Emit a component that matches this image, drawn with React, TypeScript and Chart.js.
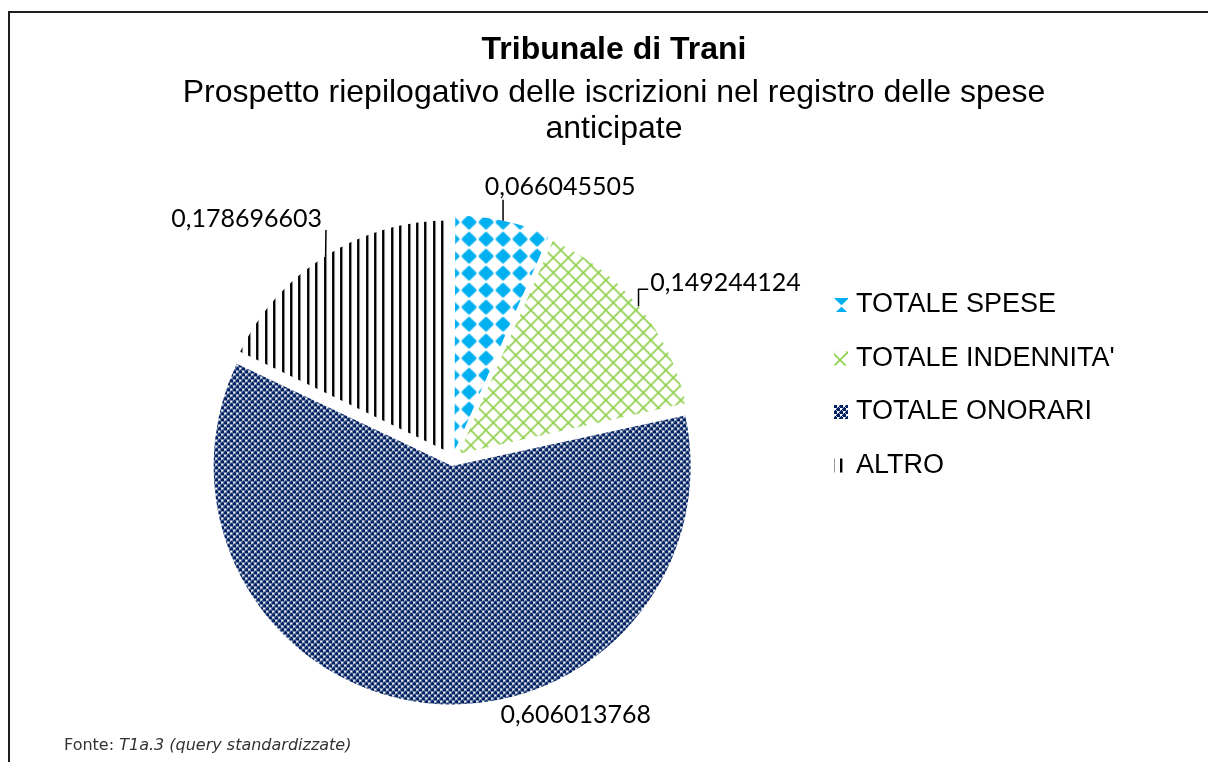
import React, { useEffect, useRef } from "react";
import { Chart, registerables } from "chart.js";

Chart.register(...registerables);

// ---------- data ----------
const TITLE = "Tribunale di Trani";
const SUBTITLE_LINES = [
  "Prospetto riepilogativo delle iscrizioni nel registro delle spese",
  "anticipate",
];
const CATEGORIES = ["TOTALE SPESE", "TOTALE INDENNITA'", "TOTALE ONORARI", "ALTRO"];
const VALUES = [0.066045505, 0.149244124, 0.606013768, 0.178696603];
const SOURCE_PREFIX = "Fonte:";
const SOURCE_NAME = "T1a.3 (query standardizzate)";

// ---------- layout / style ----------
const W = 1228;
const H = 762;
const SANS = '"Liberation Sans", Arial, Helvetica, sans-serif';
const LABEL_FONT = '25px Lato, "Open Sans", sans-serif';
const LEGEND_FONT = `27px ${SANS}`;
const LEGEND_X = 834;
const LEGEND_TOP = 305;
const LEGEND_STEP = 53.5;
// label position relative to the slice's outer mid point (style only)
const LABEL_NUDGE: [number, number][] = [
  [57, -34],
  [87, -23],
  [151, 12],
  [-79, -37],
];
const LABEL_LEADER = [true, true, false, true];

function makePattern(w: number, h: number, draw: (g: CanvasRenderingContext2D) => void) {
  const c = document.createElement("canvas");
  c.width = w;
  c.height = h;
  const g = c.getContext("2d")!;
  draw(g);
  return g.createPattern(c, "repeat")!;
}

function buildPatterns() {
  const spese = makePattern(17, 17, (g) => {
    g.fillStyle = "#ffffff";
    g.fillRect(0, 0, 17, 17);
    g.fillStyle = "#00B0F0";
    g.strokeStyle = "#00B0F0";
    g.lineJoin = "round";
    g.lineWidth = 2.5;
    g.beginPath();
    g.moveTo(8.5, 2.3);
    g.lineTo(14.7, 8.5);
    g.lineTo(8.5, 14.7);
    g.lineTo(2.3, 8.5);
    g.closePath();
    g.fill();
    g.stroke();
  });
  const indennita = makePattern(15, 15, (g) => {
    g.fillStyle = "#ffffff";
    g.fillRect(0, 0, 15, 15);
    g.strokeStyle = "#92D050";
    g.lineWidth = 1.7;
    g.beginPath();
    g.moveTo(-1, -1);
    g.lineTo(16, 16);
    g.moveTo(16, -1);
    g.lineTo(-1, 16);
    g.stroke();
  });
  const onorari = makePattern(6, 6, (g) => {
    g.fillStyle = "#002060";
    g.fillRect(0, 0, 6, 6);
    g.fillStyle = "#ffffff";
    g.fillRect(0, 0, 2, 2);
    g.fillRect(3, 3, 2, 2);
    g.fillStyle = "#aab3d0";
    g.fillRect(2, 0, 1, 1);
    g.fillRect(0, 2, 1, 1);
    g.fillRect(5, 3, 1, 1);
    g.fillRect(3, 5, 1, 1);
    g.fillRect(2, 2, 1, 1);
    g.fillRect(5, 5, 1, 1);
  });
  const altro = makePattern(42, 4, (g) => {
    g.fillStyle = "#ffffff";
    g.fillRect(0, 0, 42, 4);
    g.fillStyle = "#000000";
    [0, 8, 17, 25, 34].forEach((x) => g.fillRect(x, 0, 2.4, 4));
  });
  return [spese, indennita, onorari, altro];
}

const valueLabelPlugin = {
  id: "valueLabels",
  afterDatasetsDraw(chart: any) {
    const ctx: CanvasRenderingContext2D = chart.ctx;
    const meta = chart.getDatasetMeta(0);
    ctx.save();
    ctx.font = LABEL_FONT;
    ctx.fillStyle = "#000";
    ctx.textAlign = "center";
    ctx.textBaseline = "middle";
    meta.data.forEach((arc: any, i: number) => {
      const p = arc.getProps(["x", "y", "startAngle", "endAngle", "outerRadius", "circumference"], true);
      const off = (arc.options.offset || 0) / 4;
      const mid = (p.startAngle + p.endAngle) / 2;
      const fix = 1 - Math.sin(Math.min(Math.PI, p.circumference));
      const r = p.outerRadius + off * fix + off;
      const ox = p.x + Math.cos(mid) * r;
      const oy = p.y + Math.sin(mid) * r;
      const text = String(VALUES[i]).replace(".", ",");
      const [dx, dy] = LABEL_NUDGE[i];
      const cx = ox + dx;
      const cy = oy + dy;
      const w = ctx.measureText(text).width;
      const h = 24;
      const box = { l: cx - w / 2, r: cx + w / 2, t: cy - h / 2, b: cy + h / 2 };
      if (LABEL_LEADER[i]) {
        ctx.beginPath();
        ctx.strokeStyle = "#000";
        ctx.lineWidth = 1.5;
        ctx.moveTo(ox, oy);
        if (ox >= box.l && ox <= box.r) {
          ctx.lineTo(ox, oy > box.b ? box.b + 1 : box.t - 1);
        } else if (ox < box.l) {
          ctx.lineTo(ox, cy + 6);
          ctx.lineTo(box.l - 2, cy + 6);
        } else {
          ctx.lineTo(box.r + 4, box.b - 1);
        }
        ctx.stroke();
      }
      ctx.fillText(text, cx, cy);
    });
    ctx.restore();
  },
};

const sideLegendPlugin = {
  id: "sideLegend",
  afterDraw(chart: any) {
    const ctx: CanvasRenderingContext2D = chart.ctx;
    const bg = chart.data.datasets[0].backgroundColor as any[];
    ctx.save();
    ctx.font = LEGEND_FONT;
    ctx.textBaseline = "middle";
    ctx.textAlign = "left";
    (chart.data.labels as string[]).forEach((label, i) => {
      const y = LEGEND_TOP + i * LEGEND_STEP;
      ctx.fillStyle = bg[i];
      ctx.fillRect(LEGEND_X, y - 7, 14, 14);
      ctx.fillStyle = "#000";
      ctx.fillText(label, LEGEND_X + 22, y);
    });
    ctx.restore();
  },
};

export default function App() {
  const canvasRef = useRef<HTMLCanvasElement | null>(null);

  useEffect(() => {
    const canvas = canvasRef.current;
    if (!canvas) return;
    const chart = new Chart(canvas, {
      type: "pie",
      data: {
        labels: CATEGORIES,
        datasets: [
          {
            data: VALUES,
            backgroundColor: buildPatterns() as any,
            borderWidth: 0,
            offset: 30,
            hoverOffset: 0,
          },
        ],
      },
      options: {
        responsive: false,
        animation: false,
        events: [],
        layout: { padding: { top: 212.5, bottom: 57.5, left: 207, right: 529 } },
        plugins: {
          legend: { display: false },
          tooltip: { enabled: false },
          title: { display: false },
        },
      },
      plugins: [valueLabelPlugin, sideLegendPlugin],
    } as any);
    return () => chart.destroy();
  }, []);

  return (
    <div
      style={{
        position: "fixed",
        left: 0,
        top: 0,
        width: 1208,
        height: 762,
        overflow: "hidden",
        background: "#fff",
      }}
    >
      <div
        style={{
          position: "absolute",
          left: 8,
          top: 11,
          width: 1400,
          height: 1000,
          border: "2px solid #1e1e1e",
          boxSizing: "border-box",
        }}
      />
      <canvas
        ref={canvasRef}
        width={W}
        height={H}
        style={{ position: "absolute", left: 0, top: 0, width: W, height: H }}
      />
      <div
        style={{
          position: "absolute",
          left: 0,
          width: W,
          top: 29,
          textAlign: "center",
          fontFamily: SANS,
          fontWeight: "bold",
          fontSize: 32,
          lineHeight: "38px",
          color: "#000",
        }}
      >
        {TITLE}
      </div>
      <div
        style={{
          position: "absolute",
          left: 0,
          width: W,
          top: 73,
          textAlign: "center",
          fontFamily: SANS,
          fontSize: 32,
          lineHeight: "36px",
          color: "#000",
        }}
      >
        {SUBTITLE_LINES.map((l, i) => (
          <div key={i}>{l}</div>
        ))}
      </div>
      <div
        style={{
          position: "absolute",
          left: 64,
          top: 735,
          fontFamily: '"DejaVu Sans", Verdana, sans-serif',
          fontSize: 16,
          lineHeight: "20px",
          color: "#333",
          whiteSpace: "nowrap",
        }}
      >
        {SOURCE_PREFIX} <i>{SOURCE_NAME}</i>
      </div>
    </div>
  );
}
